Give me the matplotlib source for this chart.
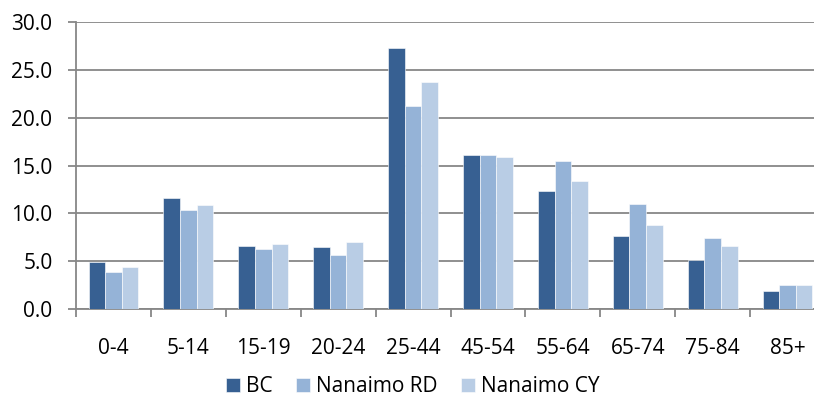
import matplotlib.pyplot as plt
import numpy as np

plt.rcParams['font.family'] = ['Open Sans', 'DejaVu Sans']

age_groups = ['0-4', '5-14', '15-19', '20-24', '25-44', '45-54', '55-64', '65-74', '75-84', '85+']
bc = [4.9, 11.6, 6.6, 6.5, 27.3, 16.1, 12.3, 7.6, 5.1, 1.9]
nanaimo_rd = [3.9, 10.4, 6.3, 5.6, 21.2, 16.1, 15.5, 11.0, 7.4, 2.5]
nanaimo_cy = [4.4, 10.9, 6.8, 7.0, 23.7, 15.9, 13.4, 8.8, 6.6, 2.5]

series = [('BC', bc, '#376092'), ('Nanaimo RD', nanaimo_rd, '#95b3d7'), ('Nanaimo CY', nanaimo_cy, '#b9cde5')]
grid_grey = '#878787'
fs = 15

fig = plt.figure(figsize=(8.14, 4.03), dpi=100)
# plot area runs slightly past the right edge of the figure
ax = fig.add_axes([76 / 814, 94 / 403, 749 / 814, 287 / 403])

x = np.arange(len(age_groups))
w = 0.222
for i, (name, vals, col) in enumerate(series):
    ax.bar(x + (i - 1) * w, vals, width=w, color=col, edgecolor='white', linewidth=0.4,
           label=name, zorder=3)

ax.set_xlim(-0.5, len(age_groups) - 0.5)
ax.set_ylim(0, 30)
ax.set_yticks(np.arange(0, 31, 5))
ax.set_yticklabels([f'{v:.1f}' for v in np.arange(0, 31, 5)])
ax.yaxis.grid(True, color=grid_grey, linewidth=1.3, zorder=0)
ax.set_axisbelow(True)

ax.set_xticks(x)
ax.set_xticklabels(age_groups)
ax.set_xticks(np.arange(-0.5, len(age_groups), 1), minor=True)
ax.tick_params(axis='x', which='major', length=0, pad=21, labelsize=fs)
ax.tick_params(axis='x', which='minor', length=6, width=1.3, color=grid_grey, direction='out')
ax.tick_params(axis='y', length=6, width=1.3, color=grid_grey, pad=11, labelsize=fs)

for s in ['top', 'right']:
    ax.spines[s].set_visible(False)
for s in ['left', 'bottom']:
    ax.spines[s].set_color(grid_grey)
    ax.spines[s].set_linewidth(1.3)

fig.legend(loc='center', bbox_to_anchor=(0.507, 0.04), ncol=3, frameon=False, fontsize=fs,
           handlelength=0.68, handleheight=0.68, handletextpad=0.3, columnspacing=1.1)

fig.savefig('out.png', dpi=100)
